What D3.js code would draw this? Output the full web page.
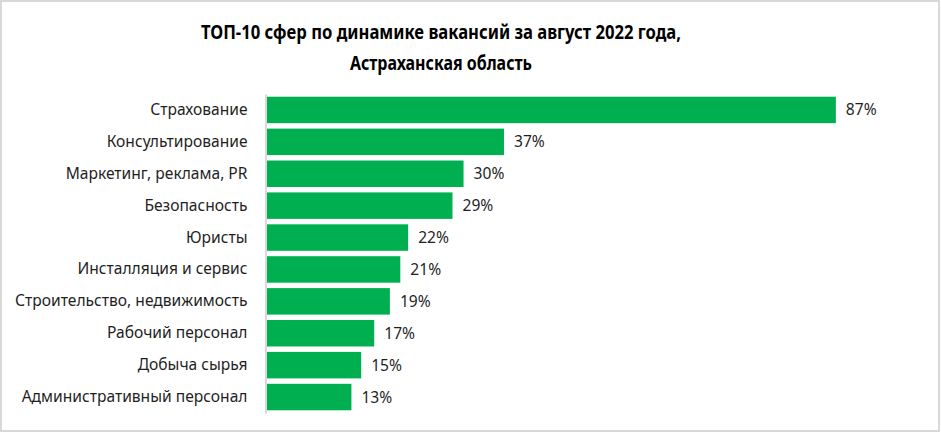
<!DOCTYPE html>
<html>
<head>
<meta charset="utf-8">
<script src="https://cdn.jsdelivr.net/npm/d3@7/dist/d3.min.js"></script>
<style>
  html, body { margin: 0; padding: 0; background: #fff; }
  svg { display: block; }
</style>
</head>
<body>
<svg id="chart" width="941" height="436"></svg>
<script>
const titleLines = ["ТОП-10 сфер по динамике вакансий за август 2022 года,", "Астраханская область"];
const categories = [
  "Страхование",
  "Консультирование",
  "Маркетинг, реклама, PR",
  "Безопасность",
  "Юристы",
  "Инсталляция и сервис",
  "Строительство, недвижимость",
  "Рабочий персонал",
  "Добыча сырья",
  "Административный персонал"
];
const values = [87.4, 36.5, 30.3, 28.6, 21.8, 20.6, 19.0, 16.6, 14.6, 13.1];

const W = 941, H = 436;
const svg = d3.select("#chart");
const FONT = "'Noto Sans', 'Open Sans', sans-serif";

// border
svg.append("rect")
  .attr("x", 1).attr("y", 1)
  .attr("width", 938).attr("height", 430)
  .attr("fill", "#fff")
  .attr("stroke", "#d9d9d9")
  .attr("stroke-width", 2);

// title
const titleWidths = [480, 182];
svg.selectAll("text.title").data(titleLines).join("text")
  .attr("class", "title")
  .attr("x", 441)
  .attr("y", (d, i) => 39 + i * 31)
  .attr("text-anchor", "middle")
  .attr("font-family", FONT)
  .attr("font-weight", "bold")
  .attr("font-size", 20)
  .attr("fill", "#000")
  .attr("textLength", (d, i) => titleWidths[i])
  .attr("lengthAdjust", "spacingAndGlyphs")
  .text(d => d);

const left = 266;
const x = d3.scaleLinear().domain([0, 100]).range([left, left + 652]);
const y = d3.scaleBand().domain(categories).range([94, 413]).paddingInner(0.17).paddingOuter(0.085);

const g = svg.append("g");

g.selectAll("rect.bar").data(categories).join("rect")
  .attr("class", "bar")
  .attr("x", x(0))
  .attr("y", d => y(d))
  .attr("width", (d, i) => x(values[i]) - x(0))
  .attr("height", y.bandwidth())
  .attr("fill", "#00b050");

// axis
const axis = d3.axisLeft(y).tickSize(0).tickPadding(18);
const ag = svg.append("g").attr("transform", `translate(${left - 0.5},0)`).call(axis);
ag.select(".domain").attr("stroke", "#d9d9d9").attr("stroke-width", 2);
ag.selectAll(".tick text")
  .attr("font-family", FONT)
  .attr("font-size", 15.6)
  .attr("fill", "#1f1f1f");

// value labels
g.selectAll("text.val").data(categories).join("text")
  .attr("class", "val")
  .attr("x", (d, i) => x(values[i]) + 10)
  .attr("y", d => y(d) + y.bandwidth() / 2)
  .attr("dy", "0.35em")
  .attr("font-family", FONT)
  .attr("font-size", 15.6)
  .attr("fill", "#1f1f1f")
  .text((d, i) => Math.round(values[i]) + "%");
</script>
</body>
</html>
